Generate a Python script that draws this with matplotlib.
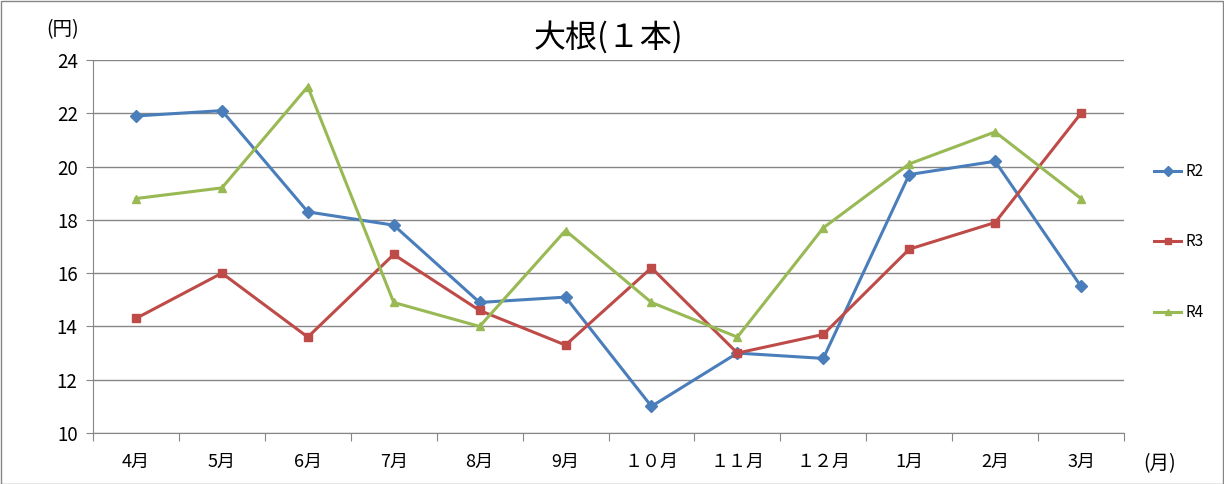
import matplotlib.pyplot as plt
from matplotlib.patches import Rectangle

plt.rcParams['font.family'] = ['Noto Sans CJK JP', 'DejaVu Sans']

months = ['4月', '5月', '6月', '7月', '8月', '9月',
          '１０月', '１１月', '１２月', '1月', '2月', '3月']
r2 = [21.9, 22.1, 18.3, 17.8, 14.9, 15.1, 11.0, 13.0, 12.8, 19.7, 20.2, 15.5]
r3 = [14.3, 16.0, 13.6, 16.7, 14.6, 13.3, 16.2, 13.0, 13.7, 16.9, 17.9, 22.0]
r4 = [18.8, 19.2, 23.0, 14.9, 14.0, 17.6, 14.9, 13.6, 17.7, 20.1, 21.3, 18.8]
y_ticks = [10, 12, 14, 16, 18, 20, 22, 24]


def main():
    fig = plt.figure(figsize=(12.24, 4.84), dpi=100)
    ax = fig.add_axes([93 / 1224, 1 - 433 / 484, 1031 / 1224, 373 / 484])

    xs = [i + 0.5 for i in range(len(months))]
    ax.plot(xs, r2, color='#4a7ebb', marker='D', markersize=6, lw=2.2, label='R2')
    ax.plot(xs, r3, color='#be4b48', marker='s', markersize=6, lw=2.2, label='R3')
    ax.plot(xs, r4, color='#98b954', marker='^', markersize=6, lw=2.2, label='R4')

    ax.set_xlim(0, len(months))
    ax.set_ylim(10, 24)
    ax.set_yticks(y_ticks)
    ax.tick_params(axis='y', length=5, color='#868686', labelsize=13.5, pad=6)
    ax.set_xticks(range(len(months) + 1))
    ax.set_xticklabels([])
    ax.set_xticks(xs, minor=True)
    ax.set_xticklabels(months, minor=True)
    ax.tick_params(axis='x', which='major', length=6, color='#868686')
    ax.tick_params(axis='x', which='minor', length=0, labelsize=13, pad=14)

    ax.grid(axis='y', color='#868686', lw=1)
    ax.set_axisbelow(True)
    for side in ['top', 'right']:
        ax.spines[side].set_visible(False)
    for side in ['left', 'bottom']:
        ax.spines[side].set_color('#868686')

    fig.text(608 / 1224, 1 - 37 / 484, '大根(１本)', fontsize=23, ha='center', va='center')
    fig.text(63 / 1224, 1 - 30 / 484, '(円)', fontsize=14, ha='center', va='center')
    fig.text(1160 / 1224, 1 - 464 / 484, '(月)', fontsize=14, ha='center', va='center')

    fig.legend(loc='center left', bbox_to_anchor=(1140 / 1224, 1 - 242 / 484),
               frameon=False, fontsize=11, handlelength=1.8, handletextpad=0.3,
               labelspacing=3.5, markerscale=0.8)

    fig.patches.append(Rectangle((0.001, 0.001), 0.998, 0.997, transform=fig.transFigure,
                                 fill=False, edgecolor='#868686', lw=1))
    fig.savefig('out.png', dpi=100)


main()
